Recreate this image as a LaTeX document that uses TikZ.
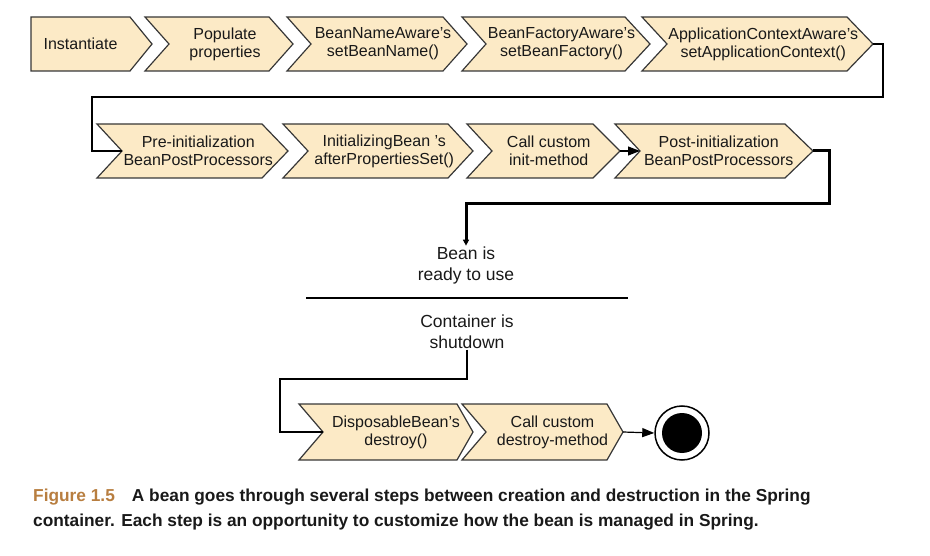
\documentclass[tikz,border=0pt]{standalone}
\usepackage{fontspec}
\setmainfont{Liberation Sans}
\usetikzlibrary{arrows.meta,calc}
\definecolor{chevfill}{RGB}{252,234,198}
\definecolor{chevline}{RGB}{55,55,55}
\definecolor{figcol}{RGB}{184,126,64}
\definecolor{txt}{RGB}{25,25,25}
\tikzset{
  chev/.style={fill=chevfill, draw=chevline, line width=1.2pt, line join=miter},
  chevtext/.style={align=center, inner sep=0pt, text=txt, font=\fontsize{16}{18}\selectfont},
  conn/.style={draw=black, line width=1.2pt},
  thickconn/.style={draw=black, line width=3pt},
  state/.style={align=center, inner sep=0.5pt, text=txt, font=\fontsize{17.5}{21}\selectfont},
  captext/.style={anchor=base west, inner sep=0pt, text=txt, font=\bfseries\fontsize{17.3}{25}\selectfont}
}
% #1 name, #2 xl, #3 xr, #4 ytop, #5 ybot, #6 tip depth, #7 notch depth, #8 text
\newcommand{\chevron}[8]{%
  \pgfmathsetmacro\cyv{(#4+#5)/2}%
  \filldraw[chev] (#2,#4) -- (#3,#4) -- (#3+#6,\cyv) -- (#3,#5) -- (#2,#5) -- (#2+#7,\cyv) -- cycle;
  \coordinate (#1-tip) at (#3+#6,\cyv);
  \coordinate (#1-notch) at (#2+#7,\cyv);
  \node[chevtext] (#1) at ({(#2+#3)/2+0.75*#7},\cyv) {#8};
}
\begin{document}
\begin{tikzpicture}[x=1pt,y=-1pt]
\useasboundingbox (0,0) rectangle (930,556);
% row 1
\chevron{inst}{31}{130}{17}{71}{22}{0}{Instantiate}
\chevron{pop}{145}{269}{17}{71}{24}{24}{Populate\\properties}
\chevron{bna}{287}{443}{17}{71}{24}{24}{BeanNameAware’s\\setBeanName()}
\chevron{bfa}{462}{625}{17}{71}{25}{24}{BeanFactoryAware’s\\setBeanFactory()}
\chevron{aca}{642}{847}{17}{71}{26}{25}{ApplicationContextAware’s\\setApplicationContext()}
% row 2
\chevron{pre}{97}{262}{124}{178}{26}{25}{Pre-initialization\\BeanPostProcessors}
\chevron{ib}{283}{448}{124}{178}{25}{25}{InitializingBean ’s\\afterPropertiesSet()}
\chevron{init}{467}{593}{124}{178}{27}{25}{Call custom\\init-method}
\chevron{post}{615}{785}{124}{178}{28}{25}{Post-initialization\\BeanPostProcessors}
% row 3
\chevron{disp}{299}{457}{404}{460}{16}{24}{DisposableBean’s\\destroy()}
\chevron{dm}{462}{607}{404}{460}{16}{24}{Call custom\\destroy-method}
% states
\node[state] (ready) at (466,265) {Bean is\\ready to use};
\node[state] (shut) at (467,332) {Container is\\shutdown};
\draw[line width=1.5pt] (306,298) -- (628,298);
% end state
\node[circle, draw=black, line width=1.5pt, minimum size=54pt, inner sep=0pt] (end) at (682,433) {};
\fill[black] (end.center) circle (20);
% connectors
\coordinate (b1) at (883,97);
\coordinate (b2) at (92,151);
\draw[conn] (aca-tip) -| (b1) -| (b2) -- (pre-notch);
\draw[conn, -{Triangle[length=12pt,width=9pt]}] (init-tip) -- (post-notch);
\coordinate (c1) at (829,204);
\draw[thickconn, -{Triangle[length=6pt,width=6pt]}] (post-tip) -| (c1) -| (ready.north);
\coordinate (d1) at (280,379);
\draw[conn] (shut.south) |- (d1) |- (disp-notch);
\draw[conn, -{Triangle[length=12pt,width=9pt]}] (dm-tip) -- (end.west);
% caption
\node[captext] (cap1) at (33,501) {\textcolor{figcol}{Figure 1.5}\hspace{17pt}A bean goes through several steps between creation and destruction in the Spring};
\node[captext] (cap2) at (33,526) {container. Each step is an opportunity to customize how the bean is managed in Spring.};
\end{tikzpicture}
\end{document}
